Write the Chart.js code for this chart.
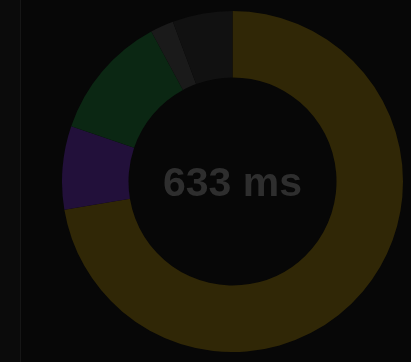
<!DOCTYPE html>
<html>
<head>
<meta charset="utf-8">
<script src="https://cdn.jsdelivr.net/npm/chart.js@4/dist/chart.umd.min.js"></script>
<style>
  html, body {
    margin: 0;
    padding: 0;
    width: 411px;
    height: 362px;
    background: #070707;
    overflow: hidden;
  }
  #sidebar {
    position: absolute;
    left: 0;
    top: 0;
    width: 20px;
    height: 362px;
    background: #0b0b0b;
    border-right: 1px solid #161616;
  }
  #chartBox {
    position: absolute;
    left: 62px;
    top: 11px;
    width: 341px;
    height: 341px;
  }
  #totalLabel {
    position: absolute;
    left: 62px;
    top: 12px;
    width: 341px;
    height: 341px;
    display: flex;
    align-items: center;
    justify-content: center;
    font-family: "Liberation Sans", Arial, sans-serif;
    font-weight: bold;
    font-size: 41px;
    color: #2e2e2e;
    pointer-events: none;
  }
</style>
</head>
<body>
<div id="sidebar"></div>
<div id="chartBox"><canvas id="timingChart"></canvas></div>
<div id="totalLabel"></div>

<script>
const phases = ["Waiting", "Queueing", "Connecting", "Sending", "Blocked"];
const durations = [458, 50, 75, 14, 36];
const phaseColors = ["#302706", "#22103a", "#0b2713", "#1a1a1a", "#111111"];

function sumValues(arr) {
  let total = 0;
  arr.forEach((v) => {
    total += v;
  });
  return total;
}

document.getElementById("totalLabel").textContent = `${sumValues(durations)} ms`;

const ctx = document.getElementById("timingChart").getContext("2d");

new Chart(ctx, {
  type: "doughnut",
  data: {
    labels: phases,
    datasets: [
      {
        data: durations,
        backgroundColor: phaseColors,
        borderWidth: 0,
      },
    ],
  },
  options: {
    responsive: true,
    maintainAspectRatio: false,
    animation: false,
    cutout: "61%",
    layout: { padding: 0 },
    plugins: {
      legend: { display: false },
      tooltip: { enabled: false },
    },
  },
});
</script>
</body>
</html>
